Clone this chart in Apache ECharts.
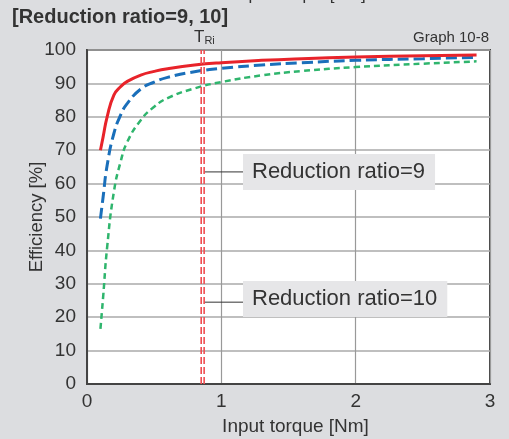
<!DOCTYPE html>
<html>
<head>
<meta charset="utf-8">
<script src="https://cdn.jsdelivr.net/npm/echarts@6/dist/echarts.min.js"></script>
<style>
  html, body { margin: 0; padding: 0; background: #dcdde0; }
  #chart { width: 509px; height: 439px; }
</style>
</head>
<body>
<div id="chart"></div>
<script>
// input torque [Nm]
const torque = [0.1, 0.12, 0.15, 0.2, 0.25, 0.3, 0.4, 0.5, 0.6, 0.8, 1.0, 1.3, 1.6, 2.0, 2.5, 2.9];
// efficiency [%]
const effRed   = [70, 74, 80, 86.5, 89, 90.6, 92.5, 93.6, 94.4, 95.5, 96.2, 96.9, 97.4, 97.9, 98.3, 98.5];
const effBlue  = [49.5, 56, 65.5, 75, 80.5, 84, 88.3, 90.4, 91.8, 93.5, 94.5, 95.5, 96.2, 96.9, 97.4, 97.8];
const effGreen = [16.5, 26, 41, 57.5, 66.5, 72.5, 79, 83, 85.6, 88.5, 90.4, 92.4, 93.7, 94.9, 95.9, 96.6];
// rated input torque lines (T_Ri)
const trLines = [0.85, 0.872];
const xTicks = [0, 1, 2, 3];
const labels = ['Reduction ratio=9', 'Reduction ratio=10'];
const labelAnchorY = [63.5, 24.5];

const font = 'Arial, "Liberation Sans", sans-serif';
const chart = echarts.init(document.getElementById('chart'));

function pairs(ys) {
  return torque.map((x, i) => [x, ys[i]]);
}

const curve = (name, ys, color, width, dash) => ({
  name: name,
  type: 'line',
  data: pairs(ys),
  smooth: 0.5,
  showSymbol: false,
  silent: true,
  lineStyle: { color: color, width: width, type: dash }
});

const option = {
  backgroundColor: '#dcdde0',
  animation: false,
  grid: {
    left: 87, right: 19, top: 50, bottom: 55,
    outerBoundsMode: 'none', containLabel: false,
    show: true, backgroundColor: '#fff', borderColor: '#444', borderWidth: 2
  },
  xAxis: {
    type: 'value', min: 0, max: 3, interval: 1,
    name: 'Input torque [Nm]', nameLocation: 'middle', nameGap: 33, nameMoveOverlap: false,
    nameTextStyle: { fontFamily: font, fontSize: 19, color: '#333', padding: [0, 0, 0, 14] },
    axisLine: { show: true, lineStyle: { color: '#444', width: 2 } },
    axisTick: { show: false },
    axisLabel: {
      fontFamily: font, fontSize: 19, color: '#333', margin: 8,
      formatter: v => xTicks.indexOf(v) >= 0 ? String(v) : ''
    },
    splitLine: { show: true, lineStyle: { color: '#999', width: 1.2 } }
  },
  yAxis: {
    type: 'value', min: 0, max: 100, interval: 10,
    name: 'Efficiency [%]', nameLocation: 'middle', nameGap: 41, nameRotate: 90, nameMoveOverlap: false,
    nameTextStyle: { fontFamily: font, fontSize: 18.5, color: '#333' },
    axisLine: { show: true, lineStyle: { color: '#444', width: 2 } },
    axisTick: { show: false },
    axisLabel: { fontFamily: font, fontSize: 19, color: '#333', margin: 11 },
    splitLine: { show: true, lineStyle: { color: '#aaa', width: 1.5 } }
  },
  series: [
    curve('green', effGreen, '#2fb56d', 2.5, [6, 4]),
    curve('blue', effBlue, '#1a6fba', 3, [11, 5]),
    curve('red', effRed, '#e8232a', 3, 'solid')
  ].concat(trLines.map(x => ({
    type: 'line',
    data: [[x, 0], [x, 100]],
    showSymbol: false,
    silent: true,
    lineStyle: { color: '#ee4c50', width: 1.6, type: [7, 3] }
  })))
};
chart.setOption(option);

// annotations
const graphics = [
  {
    type: 'text', left: 12, top: 7,
    style: { text: '[Reduction ratio=9, 10]', font: 'bold 20px ' + font, fill: '#333' }
  },
  {
    type: 'text', x: 300, y: 4,
    style: { text: 'Input torque [Nm]', font: '17px ' + font, fill: '#333', align: 'center', verticalAlign: 'bottom' }
  },
  {
    type: 'text', right: 20, top: 30,
    style: { text: 'Graph 10-8', font: '15px ' + font, fill: '#333' }
  },
  {
    type: 'text', x: 194, y: 29,
    style: {
      text: '{t|T}{s|Ri}',
      rich: {
        t: { font: '17px ' + font, fill: '#333' },
        s: { font: '11px ' + font, fill: '#333', verticalAlign: 'bottom', padding: [5, 0, 0, 0] }
      }
    }
  }
];

const boxX = 243;
const boxTops = [154, 281];
labels.forEach((txt, i) => {
  const p = chart.convertToPixel({ gridIndex: 0 }, [trLines[1], labelAnchorY[i]]);
  graphics.push({
    type: 'line', silent: true,
    shape: { x1: p[0], y1: p[1], x2: boxX, y2: p[1] },
    style: { stroke: '#333', lineWidth: 1 }
  });
  graphics.push({
    type: 'text', x: boxX, y: boxTops[i],
    style: {
      text: txt, font: '22px ' + font, fill: '#333',
      backgroundColor: '#e6e6e8', padding: [7, 10, 7, 9]
    }
  });
});
chart.setOption({ graphic: graphics });
</script>
</body>
</html>
